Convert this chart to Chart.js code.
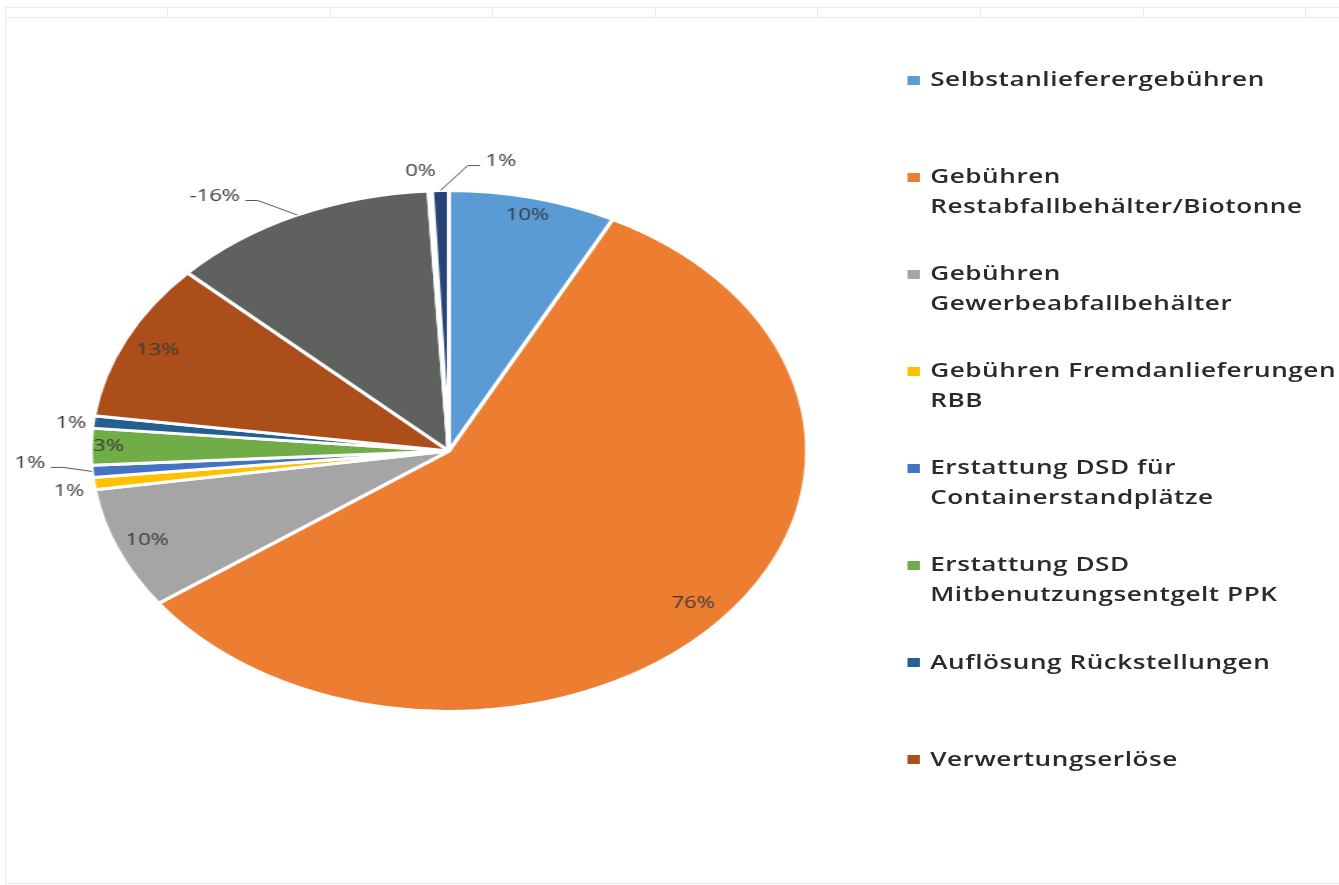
<!DOCTYPE html>
<html lang="de">
<head>
<meta charset="utf-8">
<title>Erträge</title>
<script src="https://cdn.jsdelivr.net/npm/chart.js@4.4.1/dist/chart.umd.min.js"></script>
<style>
  html, body { margin: 0; padding: 0; background: #fff; }
  body { width: 1339px; height: 885px; overflow: hidden; position: relative; font-family: 'Open Sans', sans-serif; }

  /* Tabellenraster der Seite (oben/links) */
  .rule { position: absolute; background: #ebebeb; }

  /* Diagramm wird horizontal gestreckt (Seitenformat) */
  #stage { position: absolute; left: 0; top: 0; width: 974px; height: 885px; transform: scaleX(1.375); transform-origin: 0 0; }
  #pie-wrap { position: absolute; left: 0; top: 51px; width: 653px; height: 800px; }

  #legend { position: absolute; left: 660px; top: 65px; margin: 0; padding: 0; list-style: none; }
  #legend li { position: relative; height: 97.1px; padding-left: 16.5px; white-space: nowrap;
               font-size: 19px; font-weight: 600; line-height: 29.5px; letter-spacing: 0.4px; color: #2a2a2a; }
  #legend .swatch { position: absolute; left: 0; top: 10.5px; width: 9px; height: 9px; }
</style>
</head>
<body>
<div id="rules"></div>
<div id="stage">
  <div id="pie-wrap"><canvas id="pie"></canvas></div>
  <ul id="legend"></ul>
</div>

<script>
/* ---------- Daten ---------- */
const categories = [
  'Selbstanlieferergebühren',
  'Gebühren Restabfallbehälter/Biotonne',
  'Gebühren Gewerbeabfallbehälter',
  'Gebühren Fremdanlieferungen RBB',
  'Erstattung DSD für Containerstandplätze',
  'Erstattung DSD Mitbenutzungsentgelt PPK',
  'Auflösung Rückstellungen',
  'Verwertungserlöse',
  'Sonstige Aufwendungen',
  'Sonstiges',
  'Zinserträge'
];
// Anteile in %, negativ = Aufwand
const values = [10, 76, 10, 1, 1, 3, 1, 13, -16, 0.2, 1];

// Zeilenumbrüche der Legende wie im Bericht
const legendLines = [
  ['Selbstanlieferergebühren'],
  ['Gebühren', 'Restabfallbehälter/Biotonne'],
  ['Gebühren', 'Gewerbeabfallbehälter'],
  ['Gebühren Fremdanlieferungen', 'RBB'],
  ['Erstattung DSD für', 'Containerstandplätze'],
  ['Erstattung DSD', 'Mitbenutzungsentgelt PPK'],
  ['Auflösung Rückstellungen'],
  ['Verwertungserlöse']
];

const colors = [
  '#5b9bd5', '#ed7d31', '#a5a5a5', '#ffc000', '#4472c4', '#70ad47',
  '#255e91', '#ab4e1a', '#5e615e', '#997300', '#264478'
];

/* ---------- Beschriftung der Segmente ----------
   inside: Abstand vom Mittelpunkt als Anteil des Radius
   dx/dy:  Versatz der Textmitte vom Rand (Segmentmitte), leader = Seite der Führungslinie */
const labelPlacement = [
  { inside: 0.93 },
  { inside: 0.90 },
  { inside: 0.91 },
  { dx: -18, dy: 8 },
  { dx: -45, dy: -8, leader: 'right' },
  { inside: 0.95 },
  { dx: -16, dy: 1 },
  { inside: 0.90 },
  { dx: -60, dy: -18.5, leader: 'right' },
  { dx: -7, dy: -19 },
  { dx: 44, dy: -29, leader: 'left' }
];

(function () {
  // Raster oben und links
  const rules = document.getElementById('rules');
  const addRule = (l, t, w, h) => {
    const d = document.createElement('div');
    d.className = 'rule';
    Object.assign(d.style, { left: l + 'px', top: t + 'px', width: w + 'px', height: h + 'px' });
    rules.appendChild(d);
  };
  addRule(5, 7, 1334, 1);
  addRule(5, 17, 1334, 1);
  addRule(5, 7, 1, 878);
  addRule(5, 883, 1334, 1);
  for (let x = 167; x < 1339; x += 162.6) addRule(Math.round(x), 7, 1, 11);

  // Legende
  document.getElementById('legend').innerHTML = legendLines.map((lines, i) => `
    <li><span class="swatch" style="background:${colors[i]}"></span>${lines.join('<br>')}</li>
  `).join('');

  const total = values.reduce((s, v) => s + v, 0);
  const pctText = v => Math.round(v / total * 100) + '%';

  const sliceLabels = {
    id: 'sliceLabels',
    afterDatasetsDraw(chart) {
      const ctx = chart.ctx;
      const arcs = chart.getDatasetMeta(0).data;
      ctx.save();
      ctx.font = '500 16px "Open Sans", sans-serif';
      ctx.fillStyle = '#3a3a3a';
      ctx.textAlign = 'center';
      ctx.textBaseline = 'middle';
      ctx.strokeStyle = '#595959';
      ctx.lineWidth = 1;

      arcs.forEach((arc, i) => {
        const p = arc.getProps(['x', 'y', 'startAngle', 'endAngle', 'outerRadius'], true);
        const mid = (p.startAngle + p.endAngle) / 2;
        const place = labelPlacement[i];
        const text = pctText(values[i]);
        let tx, ty;
        if (place.inside) {
          tx = p.x + Math.cos(mid) * p.outerRadius * place.inside;
          ty = p.y + Math.sin(mid) * p.outerRadius * place.inside;
        } else {
          const rx = p.x + Math.cos(mid) * p.outerRadius;
          const ry = p.y + Math.sin(mid) * p.outerRadius;
          tx = rx + place.dx;
          ty = ry + place.dy;
          if (place.leader) {
            const half = ctx.measureText(text).width / 2;
            const dir = place.leader === 'right' ? 1 : -1;
            const edge = tx + dir * half;
            ctx.beginPath();
            ctx.moveTo(rx, ry);
            ctx.lineTo(edge + dir * 13, ty + 4);
            ctx.lineTo(edge + dir * 4, ty + 4);
            ctx.stroke();
          }
        }
        ctx.fillText(text, tx, ty);
      });
      ctx.restore();
    }
  };

  new Chart(document.getElementById('pie'), {
    type: 'pie',
    data: {
      labels: categories,
      datasets: [{
        data: values,
        backgroundColor: colors,
        borderColor: '#ffffff',
        borderWidth: 3
      }]
    },
    options: {
      responsive: true,
      maintainAspectRatio: false,
      animation: false,
      radius: 260.5,
      layout: { padding: 0 },
      plugins: {
        legend: { display: false },
        tooltip: { enabled: false }
      }
    },
    plugins: [sliceLabels]
  });
})();
</script>
</body>
</html>
